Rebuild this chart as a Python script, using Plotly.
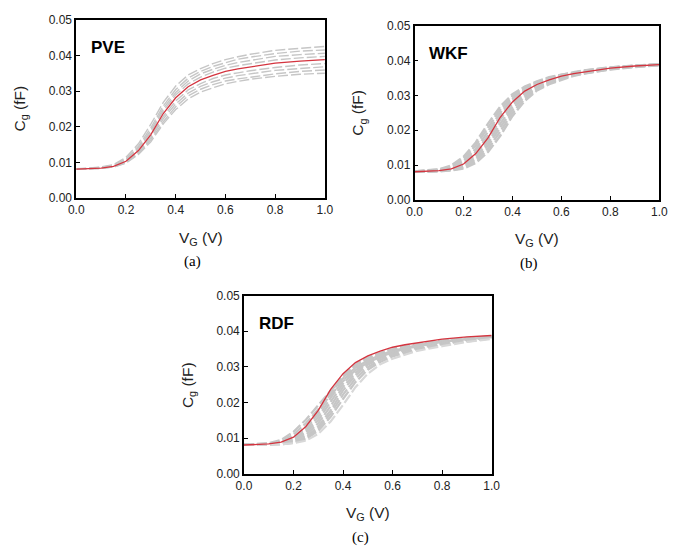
import plotly.graph_objects as go

W, H = 682, 554

# ---------------- data ----------------
V_G = [0.0, 0.1, 0.15, 0.2, 0.25, 0.3, 0.35, 0.4, 0.45, 0.5, 0.55, 0.6, 0.65, 0.7, 0.8, 0.9, 1.0]

nominal = [.0081, .0084, .0089, .0103, .0133, .0178, .0237, .0281, .0312, .0331, .0344, .0355, .0362, .0368, .0378, .0384, .0388]

# PVE runs
pve_1 = [.0082, .0087, .0094, .0114, .0152, .0207, .0268, .0314, .0345, .0363, .0377, .0388, .0396, .0403, .0414, .0420, .0425]
pve_2 = [.0081, .0086, .0092, .0110, .0145, .0197, .0258, .0304, .0336, .0355, .0369, .0380, .0389, .0395, .0405, .0412, .0415]
pve_3 = [.0081, .0085, .0091, .0108, .0141, .0190, .0251, .0296, .0328, .0348, .0361, .0372, .0380, .0386, .0397, .0402, .0406]
pve_4 = [.0081, .0084, .0090, .0106, .0138, .0184, .0244, .0289, .0320, .0339, .0353, .0364, .0371, .0376, .0387, .0393, .0397]
pve_5 = [.0081, .0084, .0089, .0102, .0130, .0173, .0229, .0272, .0303, .0321, .0335, .0345, .0351, .0357, .0366, .0373, .0377]
pve_6 = [.0081, .0084, .0088, .0101, .0127, .0168, .0222, .0264, .0294, .0313, .0326, .0336, .0343, .0348, .0358, .0363, .0368]
pve_7 = [.0081, .0083, .0087, .0099, .0124, .0163, .0214, .0256, .0286, .0305, .0318, .0328, .0334, .0339, .0348, .0355, .0359]
pve_8 = [.0081, .0083, .0087, .0098, .0122, .0158, .0208, .0248, .0278, .0297, .0309, .0320, .0327, .0333, .0341, .0347, .0350]
pve_runs = [pve_1, pve_2, pve_3, pve_4, pve_5, pve_6, pve_7, pve_8]

# WKF runs
wkf_1 = [.0082, .0088, .0099, .0124, .0165, .0219, .0268, .0303, .0325, .0340, .0352, .0360, .0366, .0372, .0380, .0385, .0389]
wkf_2 = [.0082, .0087, .0096, .0118, .0156, .0208, .0259, .0297, .0322, .0338, .0350, .0359, .0365, .0371, .0380, .0385, .0389]
wkf_3 = [.0081, .0086, .0093, .0112, .0146, .0196, .0250, .0290, .0318, .0335, .0347, .0357, .0364, .0370, .0379, .0385, .0388]
wkf_4 = [.0081, .0084, .0090, .0106, .0138, .0184, .0241, .0284, .0314, .0332, .0345, .0356, .0363, .0368, .0378, .0384, .0388]
wkf_5 = [.0081, .0084, .0089, .0102, .0130, .0173, .0231, .0277, .0309, .0329, .0343, .0354, .0361, .0367, .0377, .0384, .0388]
wkf_6 = [.0081, .0083, .0087, .0099, .0124, .0164, .0219, .0268, .0303, .0325, .0340, .0352, .0360, .0366, .0376, .0383, .0387]
wkf_7 = [.0081, .0083, .0087, .0096, .0118, .0156, .0208, .0259, .0297, .0322, .0338, .0350, .0359, .0365, .0376, .0383, .0387]
wkf_8 = [.0081, .0083, .0085, .0093, .0112, .0147, .0196, .0250, .0290, .0318, .0335, .0347, .0357, .0364, .0375, .0382, .0387]
wkf_9 = [.0081, .0082, .0085, .0090, .0106, .0138, .0184, .0241, .0284, .0314, .0332, .0345, .0356, .0363, .0374, .0381, .0386]
wkf_runs = [wkf_1, wkf_2, wkf_3, wkf_4, wkf_5, wkf_6, wkf_7, wkf_8, wkf_9]

# RDF runs
rdf_1 = [.0082, .0086, .0095, .0118, .0152, .0192, .0233, .0268, .0297, .0318, .0333, .0345, .0354, .0361, .0372, .0379, .0384]
rdf_2 = [.0082, .0085, .0091, .0110, .0142, .0181, .0223, .0260, .0290, .0312, .0328, .0341, .0351, .0358, .0370, .0378, .0383]
rdf_3 = [.0081, .0084, .0089, .0103, .0132, .0176, .0233, .0277, .0307, .0326, .0339, .0350, .0358, .0364, .0374, .0380, .0385]
rdf_4 = [.0081, .0084, .0088, .0100, .0127, .0169, .0225, .0271, .0304, .0325, .0338, .0350, .0358, .0364, .0374, .0381, .0386]
rdf_5 = [.0081, .0083, .0087, .0097, .0121, .0160, .0213, .0262, .0298, .0320, .0335, .0347, .0355, .0362, .0372, .0380, .0385]
rdf_6 = [.0081, .0083, .0086, .0095, .0115, .0151, .0202, .0253, .0290, .0316, .0331, .0343, .0353, .0359, .0371, .0379, .0384]
rdf_7 = [.0081, .0082, .0085, .0092, .0109, .0142, .0190, .0244, .0283, .0311, .0328, .0340, .0350, .0357, .0369, .0378, .0383]
rdf_8 = [.0081, .0082, .0084, .0089, .0103, .0133, .0178, .0234, .0276, .0306, .0324, .0336, .0347, .0354, .0366, .0376, .0382]
rdf_9 = [.0081, .0082, .0084, .0088, .0100, .0127, .0169, .0222, .0267, .0299, .0319, .0333, .0344, .0352, .0364, .0374, .0381]
rdf_10 = [.0081, .0082, .0083, .0087, .0097, .0121, .0160, .0210, .0257, .0292, .0314, .0329, .0340, .0349, .0362, .0372, .0380]
rdf_11 = [.0081, .0081, .0083, .0086, .0093, .0112, .0147, .0193, .0243, .0281, .0307, .0323, .0335, .0345, .0358, .0370, .0378]
rdf_runs = [rdf_1, rdf_2, rdf_3, rdf_4, rdf_5, rdf_6, rdf_7, rdf_8, rdf_9, rdf_10, rdf_11]

x_ticks = [0.0, 0.2, 0.4, 0.6, 0.8, 1.0]
y_ticks = [0.00, 0.01, 0.02, 0.03, 0.04, 0.05]
x_title = "V<sub>G</sub> (V)"
y_title = "C<sub>g</sub> (fF)"

# ---------------- layout helpers ----------------
def px_x(p):
    return p / W

def px_y(p):
    return 1 - p / H

panels = [
    # (name, runs, left, right, top, bottom, caption, gray width)
    ("PVE", pve_runs, 70, 325, 13, 196, "(a)", 1.4),
    ("WKF", wkf_runs, 417, 668, 19, 198, "(b)", 2.4),
    ("RDF", rdf_runs, 242, 496, 296, 479, "(c)", 2.2),
]

fig = go.Figure()
layout = dict(
    width=W, height=H,
    margin=dict(l=0, r=0, t=0, b=0),
    paper_bgcolor="white", plot_bgcolor="white",
    showlegend=False,
    font=dict(family="Liberation Sans, Arial, sans-serif", color="#222", size=12),
)
annotations = []
GRAY = "#c6c6c6"
RED = "#d4343f"

for i, (name, runs, l, r, t, b, cap, gw) in enumerate(panels):
    k = "" if i == 0 else str(i + 1)
    xa, ya = "x" + k, "y" + k
    for j, run in enumerate(runs):
        col = GRAY
        if name == "RDF" and j == len(runs) - 1:
            col = "#d8d8d8"
        fig.add_trace(go.Scatter(x=V_G, y=run, mode="lines", xaxis=xa, yaxis=ya,
                                 line=dict(color=col, width=gw, dash="10px,3px"),
                                 hoverinfo="skip"))
    fig.add_trace(go.Scatter(x=V_G, y=nominal, mode="lines", xaxis=xa, yaxis=ya,
                             line=dict(color=RED, width=1.3)))
    common = dict(showline=True, mirror=True, linecolor="black", linewidth=1.6,
                  ticks="inside", ticklen=4, tickcolor="black", showgrid=False,
                  zeroline=False, tickfont=dict(size=12, color="#222"))
    layout["xaxis" + k] = dict(domain=[px_x(l), px_x(r)], range=[0, 1],
                               tickvals=x_ticks, tickformat=".1f",
                               anchor=ya, **common)
    layout["yaxis" + k] = dict(domain=[px_y(b), px_y(t)], range=[0, 0.05],
                               tickvals=y_ticks, tickformat=".2f",
                               anchor=xa, **common)
    cx = (l + r) / 2
    cy = (t + b) / 2
    annotations.append(dict(text=x_title, x=px_x(cx), y=px_y(b + 41),
                            xref="paper", yref="paper", showarrow=False,
                            font=dict(size=15.5, color="#222"), xanchor="center", yanchor="middle"))
    annotations.append(dict(text=y_title, x=px_x(l - 57), y=px_y(cy),
                            xref="paper", yref="paper", showarrow=False, textangle=-90,
                            font=dict(size=15.5, color="#222"), xanchor="center", yanchor="middle"))
    annotations.append(dict(text="<b>%s</b>" % name, x=px_x(l + 13), y=px_y(t + 29),
                            xref="paper", yref="paper", showarrow=False,
                            font=dict(size=17, color="black"), xanchor="left", yanchor="middle"))
    annotations.append(dict(text=cap, x=px_x(cx - 8), y=px_y(b + 65),
                            xref="paper", yref="paper", showarrow=False,
                            font=dict(size=15, color="black", family="Liberation Serif, Times New Roman, serif"),
                            xanchor="center", yanchor="middle"))

layout["annotations"] = annotations
fig.update_layout(**layout)
fig.write_html("out.html")
